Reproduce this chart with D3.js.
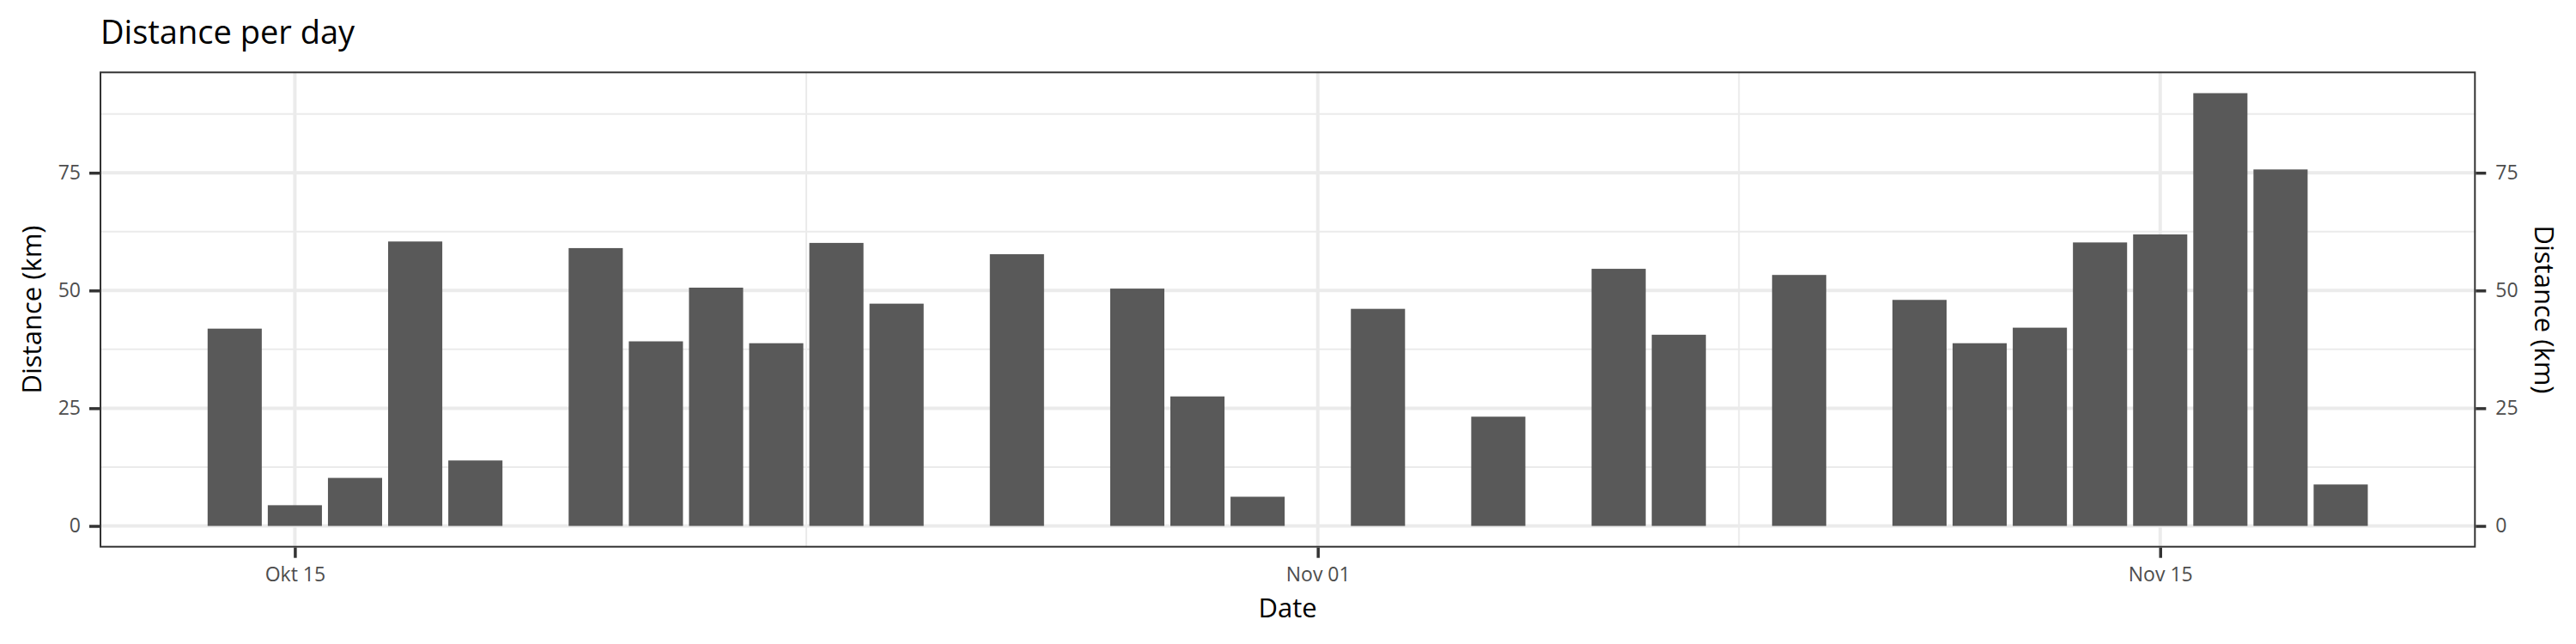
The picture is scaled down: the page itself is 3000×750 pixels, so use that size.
<!DOCTYPE html>
<html>
<head>
<meta charset="utf-8">
<script src="https://cdn.jsdelivr.net/npm/d3@7"></script>
<style>
  html, body { margin: 0; padding: 0; background: #ffffff; }
  svg { display: block; font-family: "Open Sans", "Noto Sans", sans-serif; }
</style>
</head>
<body>
<svg id="chart" width="3000" height="750"></svg>
<script>
// ---- data ----
const dates = [
  "2023-10-14","2023-10-15","2023-10-16","2023-10-17","2023-10-18",
  "2023-10-20","2023-10-21","2023-10-22","2023-10-23","2023-10-24","2023-10-25",
  "2023-10-27","2023-10-29","2023-10-30","2023-10-31",
  "2023-11-02","2023-11-04","2023-11-06","2023-11-07","2023-11-09",
  "2023-11-11","2023-11-12","2023-11-13","2023-11-14","2023-11-15",
  "2023-11-16","2023-11-17","2023-11-18"
];
const distances = [
  41.9, 4.4, 10.2, 60.4, 13.9,
  59.0, 39.2, 50.6, 38.8, 60.1, 47.2,
  57.7, 50.4, 27.5, 6.2,
  46.1, 23.2, 54.6, 40.6, 53.3,
  48.0, 38.8, 42.1, 60.2, 61.9,
  91.9, 75.7, 8.8
];
const xTickDates = ["2023-10-15", "2023-11-01", "2023-11-15"];
const xTickLabels = ["Okt 15", "Nov 01", "Nov 15"];
const yTicks = [0, 25, 50, 75];
const yMinorTicks = [12.5, 37.5, 62.5, 87.5];

const titleText = "Distance per day";
const xTitle = "Date";
const yTitle = "Distance (km)";

// ---- layout ----
const panel = { left: 116, right: 2883.3, top: 83.3, bottom: 637.7 };
const DAY = 86400000;
const parse = d3.utcParse("%Y-%m-%d");
const data = dates.map((d, i) => ({ date: parse(d), value: distances[i] }));
const majorX = xTickDates.map(parse);
const minorX = majorX.slice(1).map((d, i) => new Date((d.getTime() + majorX[i].getTime()) / 2));

const barW = 0.9 * DAY;
const dMin = d3.min(data, d => d.date).getTime() - barW / 2;
const dMax = d3.max(data, d => d.date).getTime() + barW / 2;
const padX = (dMax - dMin) * 0.05;
const x = d3.scaleUtc()
  .domain([new Date(dMin - padX), new Date(dMax + padX)])
  .range([panel.left, panel.right]);

const vMax = d3.max(data, d => d.value);
const y = d3.scaleLinear()
  .domain([-0.05 * vMax, 1.05 * vMax])
  .range([panel.bottom, panel.top]);

const svg = d3.select("#chart");
svg.append("rect").attr("width", 3000).attr("height", 750).attr("fill", "#ffffff");

// ---- grid ----
const grid = svg.append("g");
grid.selectAll("line.ymin").data(yMinorTicks).join("line")
  .attr("x1", panel.left).attr("x2", panel.right)
  .attr("y1", d => y(d)).attr("y2", d => y(d))
  .attr("stroke", "#EBEBEB").attr("stroke-width", 2);
grid.selectAll("line.xmin").data(minorX).join("line")
  .attr("x1", d => x(d)).attr("x2", d => x(d))
  .attr("y1", panel.top).attr("y2", panel.bottom)
  .attr("stroke", "#EBEBEB").attr("stroke-width", 2);
grid.selectAll("line.ymaj").data(yTicks).join("line")
  .attr("x1", panel.left).attr("x2", panel.right)
  .attr("y1", d => y(d)).attr("y2", d => y(d))
  .attr("stroke", "#EBEBEB").attr("stroke-width", 4);
grid.selectAll("line.xmaj").data(majorX).join("line")
  .attr("x1", d => x(d)).attr("x2", d => x(d))
  .attr("y1", panel.top).attr("y2", panel.bottom)
  .attr("stroke", "#EBEBEB").attr("stroke-width", 4);

// ---- bars ----
svg.append("g").selectAll("rect").data(data).join("rect")
  .attr("x", d => x(new Date(d.date.getTime() - barW / 2)))
  .attr("width", d => x(new Date(d.date.getTime() + barW / 2)) - x(new Date(d.date.getTime() - barW / 2)))
  .attr("y", d => y(d.value))
  .attr("height", d => y(0) - y(d.value))
  .attr("fill", "#595959");

// ---- panel border ----
svg.append("rect")
  .attr("x", panel.left + 1).attr("y", panel.top + 1)
  .attr("width", panel.right - panel.left - 2).attr("height", panel.bottom - panel.top - 2)
  .attr("fill", "none").attr("stroke", "#333333").attr("stroke-width", 2);

// ---- axes ----
function styleAxis(g) {
  g.select(".domain").remove();
  g.selectAll(".tick line").attr("stroke", "#333333").attr("stroke-width", 3.5);
  g.selectAll(".tick text").attr("fill", "#4D4D4D").attr("font-size", 23)
    .attr("font-family", "'Open Sans', 'Noto Sans', sans-serif");
}
const fmtX = d => xTickLabels[majorX.findIndex(m => m.getTime() === d.getTime())];

svg.append("g").attr("transform", `translate(0,${panel.bottom})`)
  .call(d3.axisBottom(x).tickValues(majorX).tickFormat(fmtX).tickSize(12).tickSizeOuter(0).tickPadding(11))
  .call(styleAxis);
svg.append("g").attr("transform", `translate(${panel.left},0)`)
  .call(d3.axisLeft(y).tickValues(yTicks).tickFormat(d3.format("d")).tickSize(12).tickSizeOuter(0).tickPadding(10))
  .call(styleAxis);
svg.append("g").attr("transform", `translate(${panel.right},0)`)
  .call(d3.axisRight(y).tickValues(yTicks).tickFormat(d3.format("d")).tickSize(12).tickSizeOuter(0).tickPadding(11))
  .call(styleAxis);

// ---- titles ----
const midY = (panel.top + panel.bottom) / 2;
svg.append("text").attr("x", 117).attr("y", 51)
  .attr("font-size", 38).attr("fill", "#000").text(titleText);
svg.append("text").attr("x", (panel.left + panel.right) / 2).attr("y", 719)
  .attr("text-anchor", "middle").attr("font-size", 31).attr("fill", "#000").text(xTitle);
svg.append("text").attr("transform", `translate(48,${midY}) rotate(-90)`)
  .attr("text-anchor", "middle").attr("font-size", 31).attr("fill", "#000").text(yTitle);
svg.append("text").attr("transform", `translate(2952,${midY}) rotate(90)`)
  .attr("text-anchor", "middle").attr("font-size", 31).attr("fill", "#000").text(yTitle);
</script>
</body>
</html>
